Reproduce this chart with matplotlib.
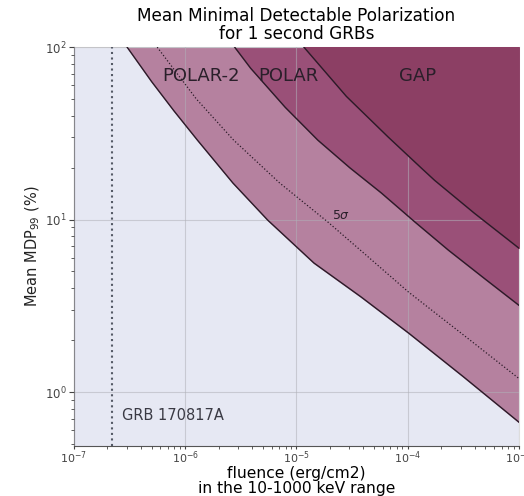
#1: import library
import numpy as np
import matplotlib
matplotlib.use('Agg')
import matplotlib.pyplot as plt

#2: curves (fluence in erg/cm2, MDP in %)
polar2_fluence = [3.01e-7, 5.0e-7, 7.94e-7, 1.29e-6, 2.69e-6, 5.53e-6, 1.44e-5, 3.82e-5, 1.02e-4, 3.16e-4, 1.0e-3]
polar2_mdp = [100, 63.1, 42.7, 28.9, 16.3, 9.93, 5.6, 3.56, 2.2, 1.23, 0.67]

polar2_5s_fluence = [5.61e-7, 1.26e-6, 2.73e-6, 7.08e-6, 1.92e-5, 4.47e-5, 1.02e-4, 3.16e-4, 1.0e-3]
polar2_5s_mdp = [100, 50.1, 28.9, 16.3, 9.68, 6.04, 3.8, 2.15, 1.2]

polar_fluence = [2.79e-6, 3.88e-6, 7.94e-6, 1.56e-5, 3.02e-5, 5.79e-5, 1.17e-4, 2.33e-4, 5.01e-4, 1.0e-3]
polar_mdp = [100, 75.5, 44.8, 28.9, 20.0, 14.3, 9.66, 6.65, 4.51, 3.19]

gap_fluence = [1.17e-5, 2.82e-5, 6.7e-5, 1.33e-4, 1.75e-4, 3.98e-4, 1.0e-3]
gap_mdp = [100, 51.8, 30.1, 19.9, 16.9, 10.9, 6.84]

grb_fluence = 2.2e-7
grb_name = 'GRB 170817A'

#3: figure
fig = plt.figure(figsize=(5.24, 4.96), dpi=100)
ax = fig.add_axes([0.141, 0.101, 0.849, 0.804])
ax.set_facecolor('#e6e8f3')

#3.1: filled regions above each curve
ax.fill_between(polar2_fluence, polar2_mdp, 100, color='#b5819f', zorder=1)
ax.fill_between(polar_fluence, polar_mdp, 100, color='#9a5078', zorder=2)
ax.fill_between(gap_fluence, gap_mdp, 100, color='#8c3f64', zorder=3)

#3.2: curves
ax.plot(polar2_fluence, polar2_mdp, color='#2b1b28', lw=1.0, zorder=4)
ax.plot(polar2_5s_fluence, polar2_5s_mdp, color='#2b1b28', lw=0.9, ls=':', zorder=4)
ax.plot(polar_fluence, polar_mdp, color='#2b1b28', lw=1.0, zorder=4)
ax.plot(gap_fluence, gap_mdp, color='#2b1b28', lw=1.0, zorder=4)

#3.3: GRB 170817A
ax.axvline(grb_fluence, color='#555a66', lw=1.5, ls=':', zorder=4)
ax.text(2.7e-7, 0.73, grb_name, fontsize=10.5, color='#3a3a44', va='center', zorder=5)

#3.4: labels of the regions
ax.text(6.2e-7, 68, 'POLAR-2', fontsize=13, color='#2a1f2a', va='center', zorder=5)
ax.text(4.5e-6, 68, 'POLAR', fontsize=13, color='#2a1f2a', va='center', zorder=5)
ax.text(8.4e-5, 68, 'GAP', fontsize=13, color='#2a1f2a', va='center', zorder=5)
ax.text(2.52e-5, 10.6, r'$5\sigma$', fontsize=9, color='#2a1f2a', ha='center', va='center', zorder=5)

#4: axes
ax.set_xscale('log')
ax.set_yscale('log')
ax.set_xlim(1e-7, 1e-3)
ax.set_ylim(0.487, 100)
ax.grid(True, which='major', color='#b0b0b8', alpha=0.55, lw=0.8, zorder=6)
ax.set_axisbelow(False)
ax.tick_params(labelsize=8.5, colors='#444444', which='both', pad=1.5)
ax.tick_params(axis='x', which='major', length=2, pad=0.3, labelsize=8)
for side in ['top', 'right']:
    ax.spines[side].set_color('#dddddd')
for side in ['left', 'bottom']:
    ax.spines[side].set_color('#555555')

ax.set_title('Mean Minimal Detectable Polarization\nfor 1 second GRBs', fontsize=12.2, linespacing=1.0)
ax.set_xlabel('fluence (erg/cm2)\nin the 10-1000 keV range', fontsize=11.2, linespacing=1.0)
ax.xaxis.set_label_coords(0.5, -0.05)
ax.set_ylabel('Mean MDP$_{99}$ (%)', fontsize=10.5, color='#222222', labelpad=2)

fig.savefig('out.png', dpi=100)
